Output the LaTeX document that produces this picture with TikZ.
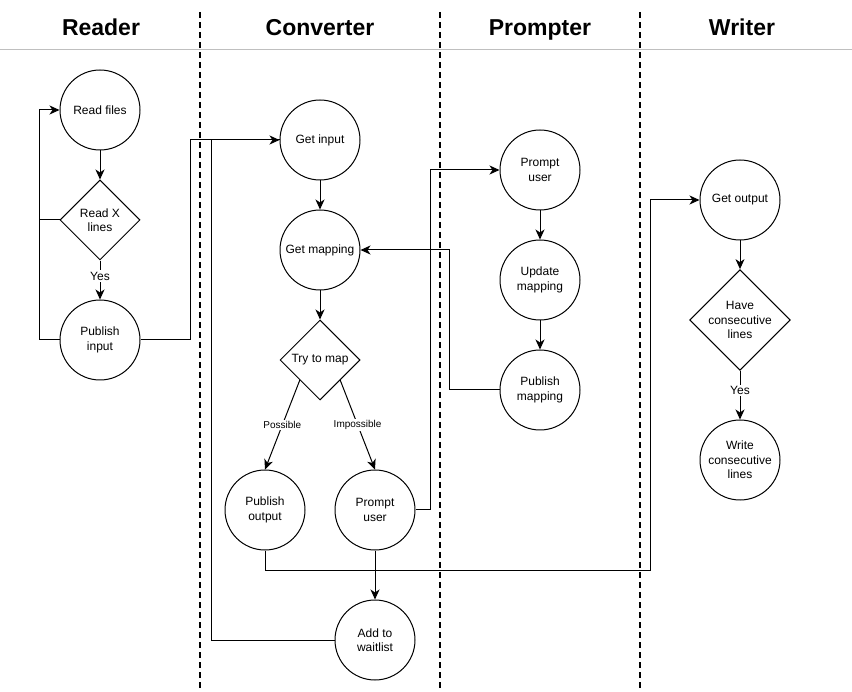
\documentclass[tikz,border=0pt]{standalone}
\usepackage{fontspec}
\setmainfont{Liberation Sans}
\usepackage{tikz}
\usetikzlibrary{arrows.meta}
\usetikzlibrary{shapes.geometric}
\tikzset{
    basenode/.style = {align=center, inner sep=0pt, text centered, font=\fontsize{12}{14.5}\selectfont},
    proc_node/.style = {basenode, circle, draw=black, minimum size=80pt, line width=1pt},
    dec_node/.style = {basenode, diamond, aspect=1, draw=black, minimum size=80pt, line width=1pt},
    lane_title/.style = {anchor=base, inner sep=0pt, font=\fontsize{23}{27}\selectfont\bfseries},
    lane_line/.style = {line width=1.5pt, dash pattern=on 6pt off 4pt},
    yes_label/.style = {fill=white, inner sep=1.5pt, font=\fontsize{12}{14}\selectfont},
    case_label/.style = {fill=white, inner sep=1pt, font=\fontsize{10}{12}\selectfont}
}

\begin{document}
\begin{tikzpicture}[x=1pt, y=-1pt, line width=1pt,
            flow/.style={-{Stealth[length=10pt, width=9pt, inset=3pt]}}]
    \useasboundingbox (0,0) rectangle (852,692);

    % lanes
    \draw[gray!50] (0,50) -- (852,50);
    \foreach \lx in {200,440,640}
        \draw[lane_line] (\lx,12) -- (\lx,692);
    \node[lane_title] (t_reader) at (101,36) {Reader};
    \node[lane_title] (t_conv) at (320,36) {Converter};
    \node[lane_title] (t_prompt) at (540,36) {Prompter};
    \node[lane_title] (t_writer) at (742,36) {Writer};

    % reader
    \node[proc_node] (readf) at (100,110) {Read files};
    \node[dec_node] (readx) at (100,220) {Read X\\lines};
    \node[proc_node] (pubin) at (100,340) {Publish\\input};

    % converter
    \node[proc_node] (getin) at (320,140) {Get input};
    \node[proc_node] (getmap) at (320,250) {Get mapping};
    \node[dec_node] (trymap) at (320,360) {Try to map};
    \node[proc_node] (pubout) at (265,510) {Publish\\output};
    \node[proc_node] (promptc) at (375,510) {Prompt\\user};
    \node[proc_node] (waitl) at (375,640) {Add to\\waitlist};

    % prompter
    \node[proc_node] (promptp) at (540,170) {Prompt\\user};
    \node[proc_node] (updmap) at (540,280) {Update\\mapping};
    \node[proc_node] (pubmap) at (540,390) {Publish\\mapping};

    % writer
    \node[proc_node] (getout) at (740,200) {Get output};
    \node[dec_node, minimum size=100pt] (haveln) at (740,320) {Have\\consecutive\\lines};
    \node[proc_node] (writeln) at (740,460) {Write\\consecutive\\lines};

    % edges
    \draw[flow] (readf) -- (readx);
    \draw[flow] (readx) -- node[yes_label, pos=0.4] {Yes} (pubin);
    \draw[flow] (pubin.west) -- ++(-20,0) |- (readf.west);
    \draw (readx.west) -- ++(-20,0);
    \draw[flow] (pubin.east) -- ++(50,0) |- (getin.west);

    \draw[flow] (getin) -- (getmap);
    \draw[flow] (getmap) -- (trymap);
    \draw[flow] (trymap.south west) -- node[case_label] {Possible} (pubout.north);
    \draw[flow] (trymap.south east) -- node[case_label] {Impossible} (promptc.north);
    \draw[flow] (promptc) -- (waitl);
    \draw (waitl.west) -- ++(-123,0) |- (getin.west);
    \draw[flow] (pubout.south) -- ++(0,20) -- ++(385,0) |- (getout.west);
    \draw[flow] (promptc.east) -- ++(15,0) |- (promptp.west);

    \draw[flow] (promptp) -- (updmap);
    \draw[flow] (updmap) -- (pubmap);
    \draw[flow] (pubmap.west) -- ++(-50,0) |- (getmap.east);

    \draw[flow] (getout) -- (haveln);
    \draw[flow] (haveln) -- node[yes_label, pos=0.4] {Yes} (writeln);
\end{tikzpicture}
\end{document}
